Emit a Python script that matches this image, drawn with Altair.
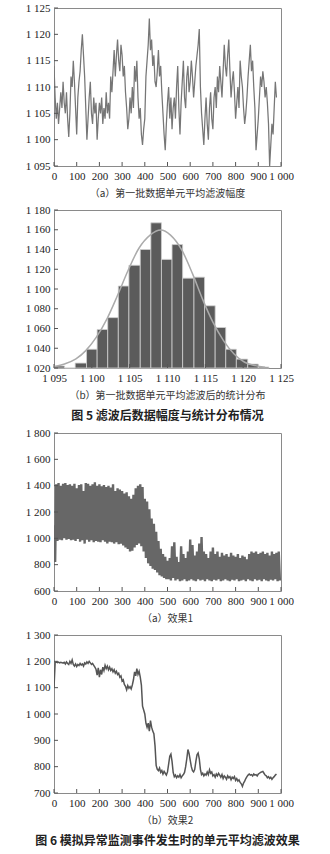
import altair as alt
import pandas as pd

FONT_NUM = "Liberation Serif"
FONT_CJK = "Noto Sans CJK SC"
W, H = 227, 158

# ---------- Fig 5 (a): unit mean filtered amplitude, samples every 5 ----------
a_step = 5
a_vals = [
    1114, 1108, 1104, 1107, 1103, 1106, 1109, 1106, 1111, 1107,
    1105, 1109, 1104, 1100.5, 1105, 1112, 1110, 1115, 1111, 1106,
    1101, 1108, 1111, 1113, 1117, 1120, 1116, 1112, 1106, 1100,
    1104, 1108, 1111, 1105, 1103, 1108, 1105, 1107, 1100, 1104,
    1107, 1105, 1108, 1103, 1106, 1104, 1109, 1105, 1107, 1104,
    1112, 1109, 1113, 1117, 1112, 1116, 1119, 1115, 1113, 1118,
    1116, 1112, 1114, 1109, 1106, 1102, 1104, 1108, 1105, 1110,
    1106, 1114, 1111, 1115, 1108, 1104, 1106, 1101, 1099, 1102,
    1104, 1112, 1115, 1118, 1123, 1117, 1119, 1114, 1116, 1111,
    1110, 1113, 1117, 1112, 1114, 1109, 1105, 1101, 1098, 1103,
    1107, 1110, 1104, 1108, 1102, 1106, 1108, 1104, 1110, 1114,
    1106, 1101, 1107, 1111, 1115, 1108, 1106, 1112, 1114, 1109,
    1111, 1115, 1112, 1108, 1111, 1114, 1116, 1118, 1121, 1110,
    1105, 1102, 1099, 1104, 1108, 1103, 1100, 1106, 1109, 1104,
    1102, 1108, 1110, 1106, 1112, 1109, 1114, 1111, 1108, 1113,
    1118, 1114, 1112, 1116, 1119, 1113, 1108, 1111, 1113, 1109,
    1104, 1107, 1110, 1106, 1115, 1112, 1110, 1106, 1103, 1105,
    1108, 1112, 1115, 1118, 1113, 1115, 1110, 1106, 1098, 1101,
    1104, 1108, 1112, 1110, 1113, 1111, 1108, 1110, 1107, 1103,
    1095, 1099, 1103, 1101, 1106, 1111, 1108,
]

# ---------- Fig 5 (b): histogram + fitted curve ----------
bin_lo = [1095.0, 1096.4, 1097.8, 1099.3, 1100.7, 1102.1, 1103.5, 1104.9, 1106.4, 1107.8,
          1109.2, 1110.6, 1112.0, 1113.5, 1114.9, 1116.3, 1117.7, 1119.1, 1120.6, 1122.0]
bin_hi = [1096.4, 1097.8, 1099.3, 1100.7, 1102.1, 1103.5, 1104.9, 1106.4, 1107.8, 1109.2,
          1110.6, 1112.0, 1113.5, 1114.9, 1116.3, 1117.7, 1119.1, 1120.6, 1122.0, 1123.4]
bin_h = [1022, 1020, 1025, 1039, 1059, 1071, 1103, 1124, 1140, 1167,
         1130, 1145, 1111, 1112, 1083, 1061, 1039, 1029, 1024, 1021]
curve_x = [1095.0, 1096.4, 1097.9, 1099.2, 1100.6, 1102.0, 1103.4, 1104.8, 1106.2, 1107.7,
           1109.1, 1110.4, 1111.9, 1113.3, 1114.7, 1116.0, 1117.4, 1118.8, 1120.2, 1121.6, 1122.9]
curve_y = [1021.4, 1024.1, 1029.2, 1037.6, 1051.2, 1069.8, 1093.6, 1119.0, 1141.0, 1154.6,
           1159.7, 1154.6, 1139.3, 1115.6, 1088.5, 1066.4, 1047.8, 1034.2, 1025.8, 1022.4, 1020.7]

# ---------- Fig 6 (a): effect 1 (dense band: peaks at x=0,10,..; troughs at x=5,15,..) ----------
e1_peaks = [
    1100, 1410, 1420, 1400, 1415, 1420, 1405, 1410, 1400, 1415,
    1380, 1405, 1410, 1360, 1420, 1415, 1400, 1410, 1425, 1400,
    1410, 1395, 1405, 1390, 1400, 1385, 1410, 1360, 1380, 1370,
    1360, 1340, 1350, 1320, 1300, 1330, 1380, 1400, 1410, 1390,
    1300, 1280, 1220, 1150, 1110, 1050, 980, 920, 880, 860,
    830, 850, 940, 970, 860, 820, 940, 880, 850, 900,
    990, 950, 870, 900, 960, 1010, 900, 880, 850, 900,
    930, 880, 900, 860, 890, 870, 880, 860, 890, 870,
    860, 880, 850, 870, 860, 840, 880, 900, 890, 900,
    880, 890, 900, 880, 890, 870, 900, 880, 890, 900,
]
e1_troughs = [
    820, 980, 990, 985, 1000, 990, 995, 985, 990, 980,
    995, 975, 985, 960, 990, 975, 985, 970, 980, 975,
    970, 985, 975, 960, 975, 970, 960, 970, 955, 960,
    945, 930, 920, 900, 905, 930, 950, 960, 940, 900,
    850, 810, 790, 770, 760, 740, 720, 710, 700, 690,
    690, 680, 700, 680, 690, 675, 680, 690, 675, 680,
    690, 680, 675, 690, 680, 685, 675, 690, 680, 675,
    685, 680, 690, 675, 680, 690, 680, 675, 685, 680,
    690, 675, 680, 685, 675, 690, 680, 675, 690, 680,
    685, 675, 690, 680, 675, 685, 680, 690, 675, 680,
]

# ---------- Fig 6 (b): effect 2, samples every 5 ----------
e2_step = 5
e2_vals = [
    1100, 1195, 1198, 1195, 1197, 1194, 1196, 1195, 1193, 1196,
    1190, 1198, 1192, 1188, 1200, 1192, 1205, 1188, 1182, 1190,
    1180, 1188, 1184, 1192, 1186, 1190, 1182, 1194, 1190, 1198,
    1192, 1200, 1194, 1188, 1192, 1185, 1178, 1170, 1148, 1175,
    1140, 1168, 1150, 1178, 1165, 1185, 1172, 1182, 1168, 1178,
    1165, 1172, 1160, 1168, 1155, 1162, 1150, 1155, 1140, 1145,
    1125, 1130, 1112, 1105, 1092, 1108, 1098, 1104, 1095, 1110,
    1130, 1160, 1145, 1172, 1150, 1162, 1140, 1110, 1030, 1015,
    1000, 965, 950, 965, 935, 975, 950, 935, 925, 880,
    805, 790, 785, 795, 778, 785, 772, 782, 775, 768,
    780, 810, 840, 848, 820, 778, 762, 768, 758, 765,
    760, 770, 758, 765, 770, 778, 800, 830, 865, 850,
    825, 800, 785, 780, 790, 820, 845, 852, 830, 790,
    770, 775, 765, 772, 768, 780, 770, 788, 775, 780,
    765, 770, 760, 772, 765, 775, 768, 760, 770, 755,
    765, 760, 752, 765, 758, 762, 750, 760, 755, 762,
    748, 755, 745, 750, 740, 735, 725, 738, 745, 755,
    762, 768, 772, 768, 770, 765, 772, 768, 770, 765,
    772, 775, 778, 780, 782, 775, 768, 765, 758, 762,
    755, 760, 752, 758, 762, 768, 772,
]

idx_ticks = [0, 100, 200, 300, 400, 500, 600, 700, 800, 900, 1000]
a_yticks = [1095, 1100, 1105, 1110, 1115, 1120, 1125]
b_xticks = [1095, 1100, 1105, 1110, 1115, 1120, 1125]
b_yticks = [1020, 1040, 1060, 1080, 1100, 1120, 1140, 1160, 1180]
c_yticks = [600, 800, 1000, 1200, 1400, 1600, 1800]
d_yticks = [700, 800, 900, 1000, 1100, 1200, 1300]

caption_a = "（a）第一批数据单元平均滤波幅度"
caption_b = "（b）第一批数据单元平均滤波后的统计分布"
fig5 = "图 5    滤波后数据幅度与统计分布情况"
caption_c = "（a）效果1"
caption_d = "（b）效果2"
fig6 = "图 6    模拟异常监测事件发生时的单元平均滤波效果"


def ax(vals):
    return alt.Axis(values=vals, format=",d", ticks=False, domain=False, grid=False,
                    title=None, labelPadding=4, labelFont=FONT_NUM, labelFontSize=11,
                    labelColor="#222222", labelFlush=False, labelOverlap=False)


def sc(dom):
    return alt.Scale(domain=dom, nice=False, zero=False)


def ticks(xvals, yvals, xdom, ydom):
    xt = alt.Chart(pd.DataFrame({"t": xvals})).mark_rule(color="#555555", strokeWidth=1).encode(
        x=alt.X("t:Q", scale=sc(xdom), axis=ax(xvals)),
        y=alt.value(H), y2=alt.value(H - 4))
    yt = alt.Chart(pd.DataFrame({"t": yvals})).mark_rule(color="#555555", strokeWidth=1).encode(
        y=alt.Y("t:Q", scale=sc(ydom), axis=ax(yvals)),
        x=alt.value(0), x2=alt.value(4))
    return xt, yt


def title(text, sub=None):
    kw = dict(text=text, orient="bottom", anchor="middle", font=FONT_CJK, fontSize=10,
              fontWeight="normal", color="#333333", offset=8)
    if sub:
        kw.update(subtitle=sub, subtitleFont=FONT_CJK, subtitleFontSize=12,
                  subtitleFontWeight="bold", subtitleColor="#222222", subtitlePadding=10)
    return alt.TitleParams(**kw)


def line_panel(xs, ys, xdom, ydom, xt, yt, color, sw, ttl):
    df = pd.DataFrame({"x": xs, "y": ys})
    main = alt.Chart(df).mark_line(color=color, strokeWidth=sw, clip=True).encode(
        x=alt.X("x:Q", scale=sc(xdom), axis=ax(xt)),
        y=alt.Y("y:Q", scale=sc(ydom), axis=ax(yt)),
    )
    t1, t2 = ticks(xt, yt, xdom, ydom)
    return alt.layer(main, t1, t2).properties(width=W, height=H, title=ttl)


pa = line_panel([a_step * i for i in range(len(a_vals))], a_vals, [0, 1000], [1095, 1125],
                idx_ticks, a_yticks, "#767676", 1.25, title(caption_a))

# histogram panel
hist_df = pd.DataFrame({"lo": bin_lo, "hi": bin_hi, "h": bin_h})
curve_df = pd.DataFrame({"x": curve_x, "y": curve_y})
bars = alt.Chart(hist_df).mark_rect(color="#5b5b5b", stroke="#d0d0d0", strokeWidth=0.8).encode(
    x=alt.X("lo:Q", scale=sc([1095, 1125]), axis=ax(b_xticks)), x2="hi:Q",
    y=alt.Y("h:Q", scale=sc([1020, 1180]), axis=ax(b_yticks)), y2=alt.datum(1020))
curve = alt.Chart(curve_df).mark_line(color="#ababab", strokeWidth=1.5, interpolate="monotone").encode(
    x=alt.X("x:Q", scale=sc([1095, 1125]), axis=ax(b_xticks)),
    y=alt.Y("y:Q", scale=sc([1020, 1180]), axis=ax(b_yticks)))
bt1, bt2 = ticks(b_xticks, b_yticks, [1095, 1125], [1020, 1180])
pb = alt.layer(bars, curve, bt1, bt2).properties(width=W, height=H, title=title(caption_b, fig5))

# effect 1
c_x, c_y = [], []
for i in range(len(e1_peaks)):
    c_x += [10 * i, 10 * i + 5]
    c_y += [e1_peaks[i], e1_troughs[i]]
pc = line_panel(c_x, c_y, [0, 1000], [600, 1800], idx_ticks, c_yticks, "#676767", 2.4, title(caption_c))

pd_ = line_panel([e2_step * i for i in range(len(e2_vals))], e2_vals, [0, 1000], [700, 1300],
                 idx_ticks, d_yticks, "#555555", 1.5, title(caption_d, fig6))

chart = alt.vconcat(pa, pb, pc, pd_, spacing=3).properties(
    padding={"left": 24, "top": 1, "right": 4, "bottom": 2},
    background="white",
).configure(
    locale={"number": {"decimal": ".", "thousands": " ", "grouping": [3], "currency": ["", ""]}},
).configure_view(stroke="#8a8a8a", strokeWidth=1)

chart.save("out.html", embed_options={"renderer": "svg", "actions": False})
